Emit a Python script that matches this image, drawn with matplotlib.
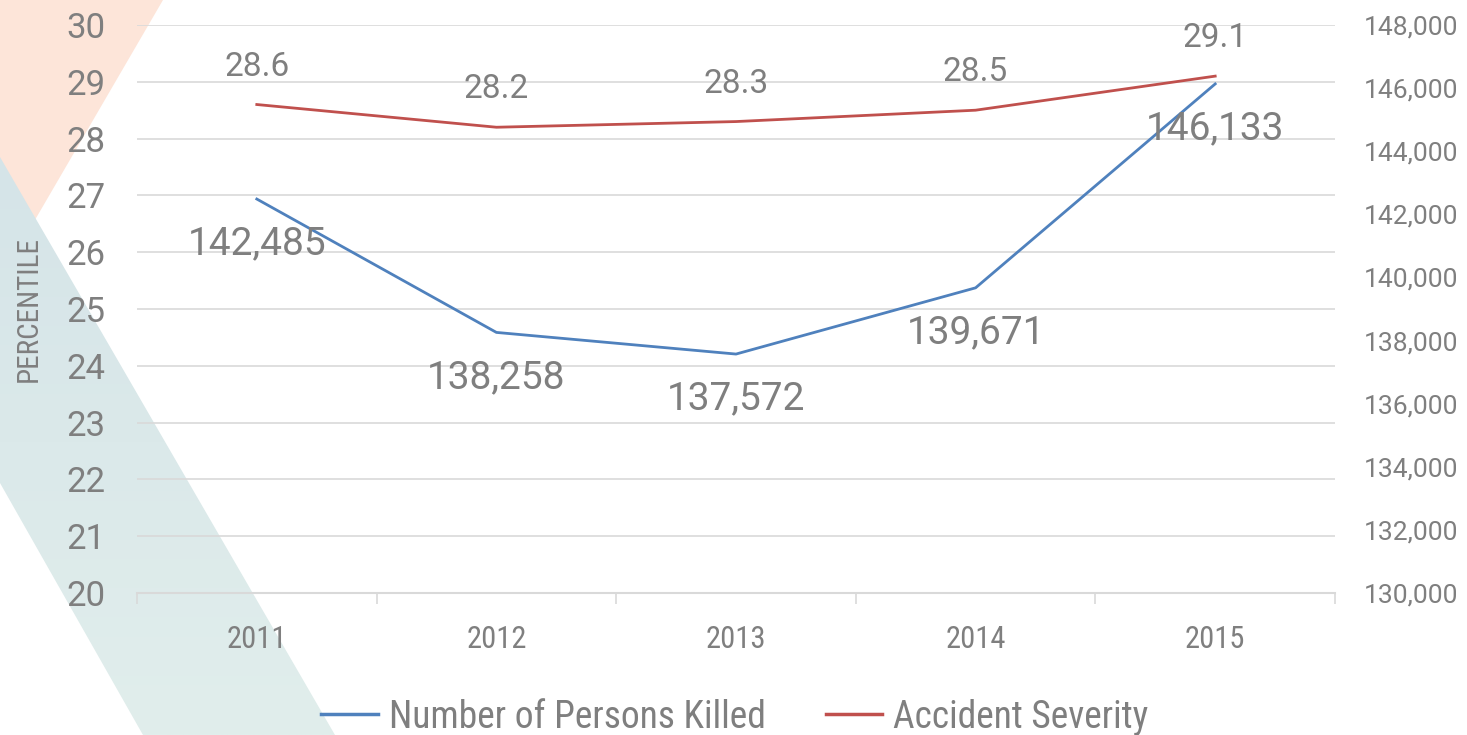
import matplotlib.pyplot as plt
import numpy as np
from matplotlib import font_manager as fm
from matplotlib.patches import Polygon
from matplotlib.lines import Line2D
from matplotlib.colors import LinearSegmentedColormap
from matplotlib.ticker import FuncFormatter, FixedLocator

years = ['2011', '2012', '2013', '2014', '2015']
killed = [142485, 138258, 137572, 139671, 146133]
severity = [28.6, 28.2, 28.3, 28.5, 29.1]

blue = '#4F81BD'
red = '#C0504D'
grey = '#7F7F7F'
grid = '#D9D9D9'
W, H = 1467, 735

# look for a condensed face for the axis titles / legend
narrow_file = None
for want in ['Roboto', 'Noto Sans', 'Open Sans', 'DejaVu Sans', 'Liberation Sans', '']:
    for f in fm.fontManager.ttflist:
        cond = ('ondensed' in f.fname or 'Narrow' in f.fname or
                str(f.stretch) in ('condensed', 'semi-condensed', 'extra-condensed'))
        if cond and f.name.startswith(want) and f.weight in (400, 'normal', 'regular') \
                and f.style == 'normal':
            narrow_file = f.fname
            break
    if narrow_file:
        break


def narrow(size):
    if narrow_file:
        return fm.FontProperties(fname=narrow_file, size=size)
    return fm.FontProperties(family='DejaVu Sans', size=size)


fig = plt.figure(figsize=(W / 100, H / 100), dpi=100)

# background decoration, pixel coordinates with y from the top
bg = fig.add_axes([0, 0, 1, 1], zorder=-5)
bg.axis('off')
bg.add_patch(Polygon([(0, 0), (163, 0), (0, 280)], facecolor='#FDE5D9',
                     edgecolor='none', zorder=0))
band = Polygon([(0, 157), (335, 735), (143, 735), (0, 483)], facecolor='none',
               edgecolor='none')
bg.add_patch(band)
cmap = LinearSegmentedColormap.from_list('band', ['#D5E4E8', '#E1EEEC'])
grad = np.linspace(0, 1, 256).reshape(-1, 1)
im = bg.imshow(grad, cmap=cmap, extent=(0, 340, 735, 150), aspect='auto', zorder=2)
im.set_clip_path(band)
bg.set_xlim(0, W)
bg.set_ylim(H, 0)

ax = fig.add_axes([137 / W, 1 - 593 / H, (1335 - 137) / W, (593 - 25) / H])
ax.patch.set_alpha(0)
ax2 = ax.twinx()

x = np.arange(len(years))
ax.plot(x, severity, color=red, lw=2.0, zorder=3)
ax2.plot(x, killed, color=blue, lw=2.0, zorder=3)

ax.set_xlim(-0.5, len(years) - 0.5)
ax.set_ylim(20, 30)
ax.set_yticks(range(20, 31))
ax2.set_ylim(130000, 148000)
ax2.set_yticks(range(130000, 148001, 2000))
ax2.yaxis.set_major_formatter(FuncFormatter(lambda v, p: f'{int(v):,}'))

for v in range(21, 31):
    ax.axhline(v, color=grid, lw=1.2, zorder=1)

for s in ['top', 'left', 'right']:
    ax.spines[s].set_visible(False)
    ax2.spines[s].set_visible(False)
ax2.spines['bottom'].set_visible(False)
ax.spines['bottom'].set_color(grid)
ax.spines['bottom'].set_linewidth(1.5)

ax.set_xticks(x)
ax.set_xticklabels(years, color=grey)
for t in ax.get_xticklabels():
    t.set_fontproperties(narrow(22))
ax.xaxis.set_minor_locator(FixedLocator(np.arange(-0.5, len(years), 1.0)))
ax.tick_params(axis='x', which='major', length=0, pad=23)
ax.tick_params(axis='x', which='minor', length=8, color=grid, width=1.2)
ax.tick_params(axis='y', length=0, pad=23, labelsize=25, labelcolor=grey)
for t in ax.get_yticklabels():
    t.set_family('Roboto')
ax2.tick_params(axis='y', length=0, pad=21, labelsize=19, labelcolor=grey)
for t in ax2.get_yticklabels():
    t.set_family('Roboto')

ax.set_ylabel('PERCENTILE', fontproperties=narrow(21), color=grey, labelpad=17)

for i, v in enumerate(severity):
    ax.annotate(f'{v}', (i, v), xytext=(0, 38), textcoords='offset pixels',
                ha='center', va='center', fontsize=24, color=grey, family='Roboto')
for i, v in enumerate(killed):
    ax2.annotate(f'{v:,}', (i, v), xytext=(0, -45), textcoords='offset pixels',
                 ha='center', va='center', fontsize=28, color=grey, family='Roboto')

handles = [Line2D([], [], color=blue, lw=2.5), Line2D([], [], color=red, lw=2.5)]
fig.legend(handles, ['Number of Persons Killed', 'Accident Severity'],
           loc='center', bbox_to_anchor=(735 / W, 1 - 717 / H), ncol=2, frameon=False,
           prop=narrow(27), labelcolor=grey,
           handlelength=1.5, handletextpad=0.3, columnspacing=1.6)

fig.savefig('out.png', dpi=100)
